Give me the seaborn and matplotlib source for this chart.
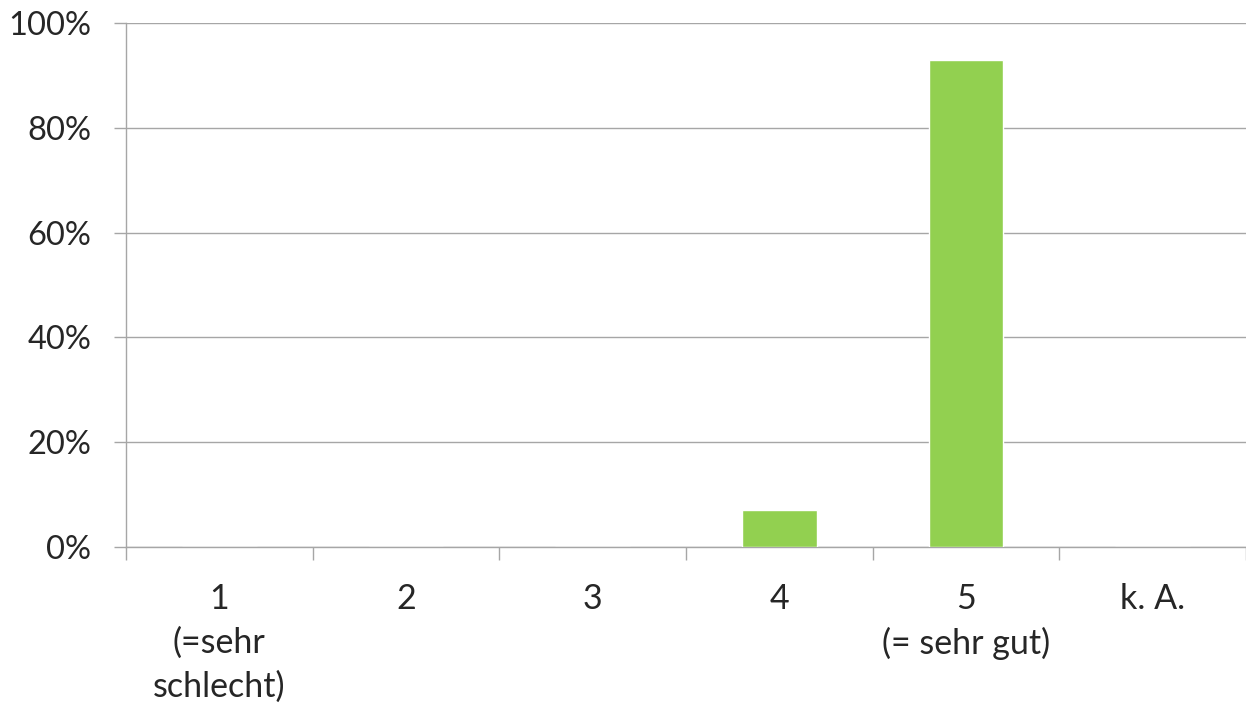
import numpy as np
import pandas as pd
import seaborn as sns
import matplotlib.pyplot as plt
from matplotlib.ticker import FixedLocator, PercentFormatter

# Data
categories = ["1\n(=sehr\nschlecht)", "2", "3", "4", "5\n(= sehr gut)", "k. A."]
shares = [0.0, 0.0, 0.0, 7.1, 92.9, 0.0]
y_ticks = [0, 20, 40, 60, 80, 100]

BAR_COLOR = "#92D050"
GRID_COLOR = "#A6A6A6"

df = pd.DataFrame({"category": categories, "share": shares})

sns.set_theme(style="white")
plt.rcParams["font.family"] = ["Lato", "DejaVu Sans"]

fig = plt.figure(figsize=(12.46, 7.04), dpi=100)
ax = fig.add_axes([126 / 1246, 1 - 547 / 704, 1 - 126 / 1246, (547 - 23) / 704])

sns.barplot(data=df, x="category", y="share", color=BAR_COLOR, width=0.4,
            saturation=1, ax=ax, zorder=3)

ax.set_xlim(-0.5, len(categories) - 0.5)
ax.set_ylim(0, 100)
ax.set_yticks(y_ticks)
ax.yaxis.set_major_formatter(PercentFormatter(decimals=0))
ax.grid(axis="y", color=GRID_COLOR, linewidth=1.0, zorder=0)
ax.set_axisbelow(True)

# tick marks between the categories
ax.xaxis.set_minor_locator(FixedLocator(np.arange(-0.5, len(categories), 1.0)))
ax.tick_params(axis="x", which="major", length=0, pad=26, labelsize=24.5)
ax.tick_params(axis="x", which="minor", length=9, width=1.0, color=GRID_COLOR,
               direction="out", bottom=True)
ax.tick_params(axis="y", which="major", length=9, width=1.0, color=GRID_COLOR,
               direction="out", left=True, pad=16, labelsize=23.5)
for lbl in ax.get_xticklabels():
    lbl.set_linespacing(1.45)

ax.set_xlabel("")
ax.set_ylabel("")
for side in ["top", "right"]:
    ax.spines[side].set_visible(False)
for side in ["left", "bottom"]:
    ax.spines[side].set_color(GRID_COLOR)
    ax.spines[side].set_linewidth(1.0)

fig.savefig("out.png", dpi=100)
